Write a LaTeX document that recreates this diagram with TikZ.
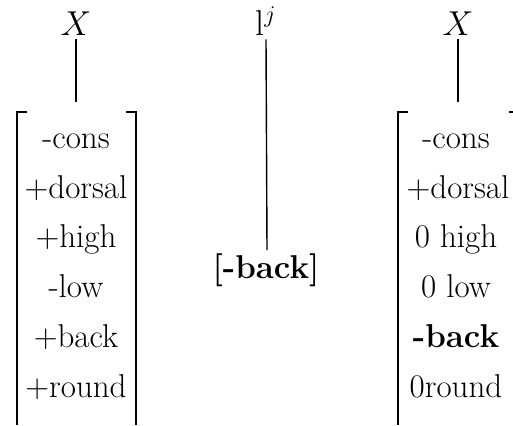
\documentclass[tikz,border=0pt]{standalone}
\usepackage{tikz}
\usetikzlibrary{calc}

\begin{document}
\begin{tikzpicture}[x=0.5pt,y=-0.5pt]
    \useasboundingbox (0,0) rectangle (513,425);
    \tikzset{feat/.style={anchor=base,inner sep=0pt,font=\fontsize{16.5}{19}\selectfont},
             seg/.style={anchor=base,inner sep=0pt,font=\fontsize{18}{21}\selectfont},
             assoc/.style={line width=0.7pt},
             brack/.style={line width=1pt}}
    \coordinate (TopL) at (76,102);
    \coordinate (TopR) at (458,102);
    \coordinate (TopM) at (267,250);
    % segments on top
    \node[seg] (XL) at (76,35) {$X$};
    \node[seg] (Lj) at (266,35) {l$^j$};
    \node[seg] (XR) at (458,35) {$X$};
    \draw [assoc]([yshift=-2pt]XL.south)--(TopL);
    \draw [assoc]([yshift=-2pt]Lj.south)--(TopM);
    \draw [assoc]([yshift=-2pt]XR.south)--(TopR);
    % brackets
    \draw [brack](27,112)--(17,112)--(17,425);
    \draw [brack](126,112)--(136,112)--(136,425);
    \draw [brack](408,112)--(398,112)--(398,425);
    \draw [brack](509,112)--(513,112);
    % left matrix
    \node[feat] (l1) at (76,148) {-cons};
    \node[feat] (l2) at (76,198) {+dorsal};
    \node[feat] (l3) at (76,247) {+high};
    \node[feat] (l4) at (76,297) {-low};
    \node[feat] (l5) at (76,347) {+back};
    \node[feat] (l6) at (76,397) {+round};
    % floating feature
    \node[feat,font=\fontsize{16.5}{19}\selectfont\bfseries] (mb) at (266,278) {[-back]};
    % right matrix
    \node[feat] (r1) at (456,148) {-cons};
    \node[feat] (r2) at (458,198) {+dorsal};
    \node[feat] (r3) at (456,247) {0 high};
    \node[feat] (r4) at (456,297) {0 low};
    \node[feat,font=\fontsize{16.5}{19}\selectfont\bfseries] (r5) at (456,347) {-back};
    \node[feat] (r6) at (456,397) {0round};
\end{tikzpicture}
\end{document}
